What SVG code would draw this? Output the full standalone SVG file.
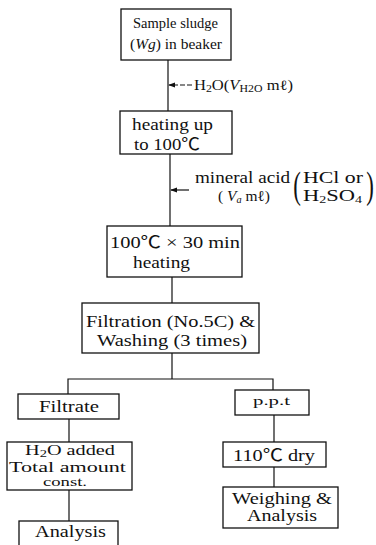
<svg xmlns="http://www.w3.org/2000/svg" width="376" height="545" viewBox="0 0 376 545">
<style>
.b{fill:#fff;stroke:#111;stroke-width:1.3}
.c{fill:none;stroke:#111;stroke-width:1.2}
text{font-family:"Liberation Serif","Noto Sans CJK JP",serif;fill:#111}
.s{font-size:10px}
</style>
<defs>
<marker id="ah" viewBox="0 0 8 8" refX="7" refY="4" markerWidth="6" markerHeight="6" orient="auto"><path d="M0,1 L8,4 L0,7 z" fill="#111"/></marker>
</defs>
<rect width="376" height="545" fill="#fff"/>
<g id="connectors">
<line class="c" x1="168" y1="60" x2="168" y2="111"/>
<line class="c" x1="170" y1="154" x2="170" y2="226"/>
<line class="c" x1="172" y1="277" x2="172" y2="303"/>
<polyline class="c" points="172,353 172,379"/>
<polyline class="c" points="68,394 68,379 273,379 273,390"/>
<line class="c" x1="69" y1="419" x2="69" y2="442"/>
<line class="c" x1="69" y1="490" x2="69" y2="521"/>
<line class="c" x1="274" y1="415" x2="274" y2="442"/>
<line class="c" x1="274" y1="467" x2="274" y2="487"/>
<line class="c" x1="192" y1="85" x2="169" y2="85" stroke-dasharray="5,2" marker-end="url(#ah)"/>
<line class="c" x1="189" y1="190" x2="171" y2="190" marker-end="url(#ah)"/>
</g>
<g id="label-water">
<text x="194" y="90" font-size="14" textLength="99" lengthAdjust="spacingAndGlyphs">H<tspan class="s" dy="2">2</tspan><tspan dy="-2">O(</tspan><tspan font-style="italic">V</tspan><tspan class="s" dy="2">H</tspan><tspan class="s">2</tspan><tspan class="s">O</tspan><tspan dy="-2"> mℓ)</tspan></text>
</g>
<g id="label-acid">
<text x="195" y="183" font-size="16" textLength="95" lengthAdjust="spacingAndGlyphs">mineral acid</text>
<text x="218" y="201" font-size="15" textLength="52" lengthAdjust="spacingAndGlyphs">( <tspan font-style="italic">V</tspan><tspan class="s" dy="2" font-style="italic">a</tspan><tspan dy="-2"> mℓ)</tspan></text>
<text x="297" y="198" font-size="38" text-anchor="middle" transform="translate(297 190) scale(0.6 1) translate(-297 -190)">(</text>
<text x="303" y="183" font-size="16" textLength="60" lengthAdjust="spacingAndGlyphs">HCl or</text>
<text x="303" y="201" font-size="16" textLength="59" lengthAdjust="spacingAndGlyphs">H<tspan class="s" dy="2">2</tspan><tspan dy="-2">SO</tspan><tspan class="s" dy="2">4</tspan></text>
<text x="370" y="198" font-size="38" text-anchor="middle" transform="translate(370 190) scale(0.6 1) translate(-370 -190)">)</text>
</g>
<g id="n1">
<rect class="b" x="121" y="9" width="110" height="51"/>
<text x="133" y="28" font-size="14" textLength="85" lengthAdjust="spacingAndGlyphs">Sample sludge</text>
<text x="130" y="49" font-size="14" textLength="92" lengthAdjust="spacingAndGlyphs">(<tspan font-style="italic">Wg</tspan>) in beaker</text>
</g>
<g id="n2">
<rect class="b" x="120" y="111" width="112" height="43"/>
<text x="132" y="130" font-size="17" textLength="81" lengthAdjust="spacingAndGlyphs">heating up</text>
<text x="134" y="150" font-size="17" textLength="66" lengthAdjust="spacingAndGlyphs">to 100℃</text>
</g>
<g id="n3">
<rect class="b" x="107" y="226" width="135" height="51"/>
<text x="110" y="248" font-size="17" textLength="130" lengthAdjust="spacingAndGlyphs">100℃ × 30 min</text>
<text x="133" y="268" font-size="17" textLength="57" lengthAdjust="spacingAndGlyphs">heating</text>
</g>
<g id="n4">
<rect class="b" x="82" y="303" width="177" height="50"/>
<text x="86" y="327" font-size="17" textLength="169" lengthAdjust="spacingAndGlyphs">Filtration (No.5C) &amp;</text>
<text x="97" y="346" font-size="17" textLength="150" lengthAdjust="spacingAndGlyphs">Washing (3 times)</text>
</g>
<g id="n5">
<rect class="b" x="18" y="394" width="101" height="25"/>
<text x="39" y="412" font-size="16" textLength="60" lengthAdjust="spacingAndGlyphs">Filtrate</text>
</g>
<g id="n6">
<rect class="b" x="235" y="390" width="74" height="25"/>
<text x="253" y="405" font-size="12" textLength="37" lengthAdjust="spacingAndGlyphs">p.p.t</text>
</g>
<g id="n7">
<rect class="b" x="7" y="442" width="125" height="48"/>
<text x="25" y="455" font-size="14" textLength="90" lengthAdjust="spacingAndGlyphs">H<tspan class="s" dy="2">2</tspan><tspan dy="-2">O added</tspan></text>
<text x="9" y="472" font-size="14" textLength="117" lengthAdjust="spacingAndGlyphs">Total amount</text>
<text x="43" y="486" font-size="12" textLength="44" lengthAdjust="spacingAndGlyphs">const.</text>
</g>
<g id="n8">
<rect class="b" x="223" y="442" width="103" height="25"/>
<text x="233" y="461" font-size="17" textLength="82" lengthAdjust="spacingAndGlyphs">110℃ dry</text>
</g>
<g id="n9">
<rect class="b" x="19" y="521" width="99" height="30"/>
<text x="35" y="537" font-size="16" textLength="71" lengthAdjust="spacingAndGlyphs">Analysis</text>
</g>
<g id="n10">
<rect class="b" x="223" y="487" width="115" height="41"/>
<text x="232" y="504" font-size="16" textLength="100" lengthAdjust="spacingAndGlyphs">Weighing &amp;</text>
<text x="247" y="521" font-size="16" textLength="70" lengthAdjust="spacingAndGlyphs">Analysis</text>
</g>
</svg>
